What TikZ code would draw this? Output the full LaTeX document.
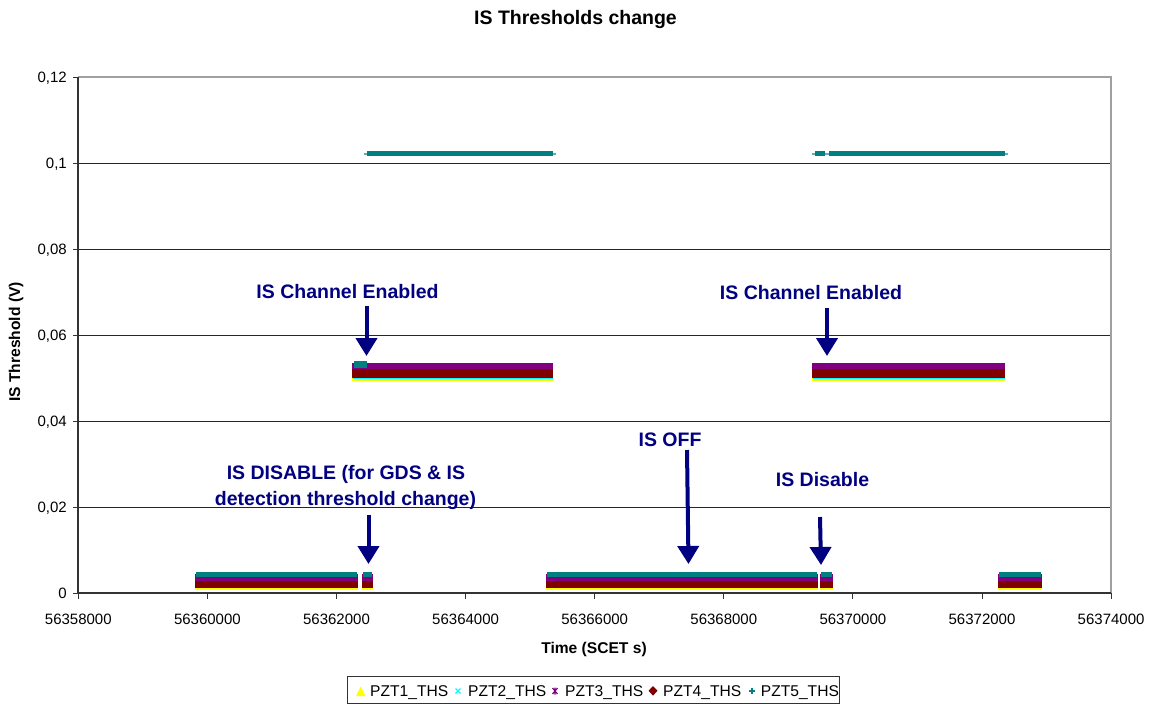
\documentclass[tikz,border=0pt]{standalone}
\usepackage{fontspec}
\setmainfont{Liberation Sans}
\usetikzlibrary{arrows.meta}
\definecolor{yel}{HTML}{FFFF00}
\definecolor{cyn}{HTML}{00FFFF}
\definecolor{pur}{HTML}{800080}
\definecolor{drd}{HTML}{800000}
\definecolor{tea}{HTML}{008080}
\definecolor{ltea}{HTML}{5FB0B0}
\definecolor{nvy}{HTML}{000080}
\definecolor{frm}{HTML}{A0A0A0}
\begin{document}
\begin{tikzpicture}[x=1pt,y=-1pt,
  gridline/.style={draw=black!85,line width=1pt},
  framegray/.style={draw=frm,line width=1.2pt},
  axisline/.style={draw=black!80,line width=1.2pt},
  tickl/.style={draw=black!80,line width=1pt},
  ticklab/.style={font=\fontsize{15}{18}\selectfont,inner sep=0pt},
  axtitle/.style={font=\fontsize{15.6}{18}\selectfont\bfseries,inner sep=0pt},
  annot/.style={font=\fontsize{19.5}{26}\selectfont\bfseries,text=nvy,inner sep=0pt,align=center},
  arr/.style={draw=nvy,line width=4pt,-{Triangle[width=21pt,length=18pt]}},
  legtext/.style={font=\fontsize{15.6}{18}\selectfont,inner sep=0pt,anchor=base west}
]
\useasboundingbox (0,0) rectangle (1155,704);
\fill[white] (0,0) rectangle (1155,704);

% title
\node[font=\fontsize{19.5}{23}\selectfont\bfseries,inner sep=0pt,anchor=base] (title) at (575.5,24) {IS Thresholds change};

% grid and frame
\foreach \yy in {163,249,335,421,507} \draw[gridline] (78,\yy) -- (1111,\yy);
\draw[framegray] (78,77) -- (1111,77) -- (1111,593);
\draw[axisline] (78,77) -- (78,593) -- (1111,593);

% y ticks
\foreach \yy/\lab [count=\k] in {77/{0,12},163/{0,1},249/{0,08},335/{0,06},421/{0,04},507/{0,02},593/0}{
  \draw[tickl] (73,\yy) -- (78,\yy);
  \node[ticklab,anchor=base east] (yl\k) at (67,\yy+5.5) {\lab};
}
% x ticks
\foreach \xx/\lab [count=\k] in {78.3/56358000,207.4/56360000,336.5/56362000,465.6/56364000,594.7/56366000,723.8/56368000,852.9/56370000,982.0/56372000,1111.1/56374000}{
  \draw[tickl] (\xx,593) -- (\xx,598.5);
  \node[ticklab,anchor=base] (xl\k) at (\xx,624.5) {\lab};
}

% axis titles
\node[axtitle,anchor=base] (xtitle) at (594,653) {Time (SCET s)};
\node[axtitle,rotate=90] (ytitle) at (16,342) {IS Threshold (V)};

% ---- data bands ----
% bottom level
\foreach \a/\b in {195/358,362/373,546/818,820/833,998/1042}{
  \fill[yel] (\a,584) rectangle (\b,589.5);
  \fill[cyn] (\a+0.5,583) rectangle (\b-0.5,588.3);
  \fill[pur] (\a,574) rectangle (\b,581);
  \fill[drd] (\a,580.5) rectangle (\b,587.5);
  \fill[tea] (\a+1,571.5) rectangle (\b-1,577);
}
% middle level
\foreach \a/\b in {352/553,812/1005}{
  \fill[yel] (\a,374) rectangle (\b,380.5);
  \fill[cyn] (\a+0.5,373) rectangle (\b-0.5,378.5);
  \fill[pur] (\a,362.5) rectangle (\b,369.5);
  \fill[drd] (\a,369.3) rectangle (\b,378);
}
\fill[tea] (354,361) rectangle (367,367.5);
% top level (PZT5)
\foreach \a/\b in {367/553,815/825,829/1005}{
  \fill[ltea] (\a-3,152.8) rectangle (\b+3,155);
  \fill[tea] (\a,151.3) rectangle (\b,156.3);
}

% ---- annotations ----
\node[annot,anchor=base] (t1) at (347.5,298) {IS Channel Enabled};
\node[annot,anchor=base] (t2) at (811,299) {IS Channel Enabled};
\node[annot,anchor=base] (t3) at (670,446.5) {IS OFF};
\node[annot,anchor=base] (t4) at (822.5,486.5) {IS Disable};
\node[annot,anchor=base] (t5a) at (346,479) {IS DISABLE (for GDS \& IS};
\node[annot,anchor=base] (t5b) at (345.5,505) {detection threshold change)};

\coordinate (a1s) at (366.5,306);  \coordinate (a1e) at (366.5,356);
\coordinate (a2s) at (827,308);    \coordinate (a2e) at (827,356);
\coordinate (a3s) at (687,450);    \coordinate (a3e) at (688.5,564);
\coordinate (a4s) at (820,517);    \coordinate (a4e) at (821,565);
\coordinate (a5s) at (368.5,515);  \coordinate (a5e) at (368.5,564);
\draw[arr] (a1s) -- (a1e);
\draw[arr] (a2s) -- (a2e);
\draw[arr] (a3s) -- (a3e);
\draw[arr] (a4s) -- (a4e);
\draw[arr] (a5s) -- (a5e);

% ---- legend ----
\draw[draw=black!80,line width=1pt,fill=white] (347.5,676) rectangle (839.5,703);
\fill[yel] (356,696) -- (365.5,696) -- (360.7,686.5) -- cycle;
\node[legtext] (l1) at (370,696.5) {PZT1\_THS};
\draw[cyn,line width=1.2pt] (455.5,688.5) -- (460.5,693.5) (455.5,693.5) -- (460.5,688.5);
\node[legtext] (l2) at (468,696.5) {PZT2\_THS};
\draw[pur,line width=1.2pt] (552.5,688) -- (557.5,694) (552.5,694) -- (557.5,688) (555,687.5) -- (555,694.5);
\node[legtext] (l3) at (565,696.5) {PZT3\_THS};
\fill[drd] (653,686) -- (657.5,690.8) -- (653,695.6) -- (648.5,690.8) -- cycle;
\node[legtext] (l4) at (663,696.5) {PZT4\_THS};
\draw[tea,line width=1.2pt] (749,691) -- (755,691) (752,688) -- (752,694);
\node[legtext] (l5) at (760.7,696.5) {PZT5\_THS};
\end{tikzpicture}
\end{document}
